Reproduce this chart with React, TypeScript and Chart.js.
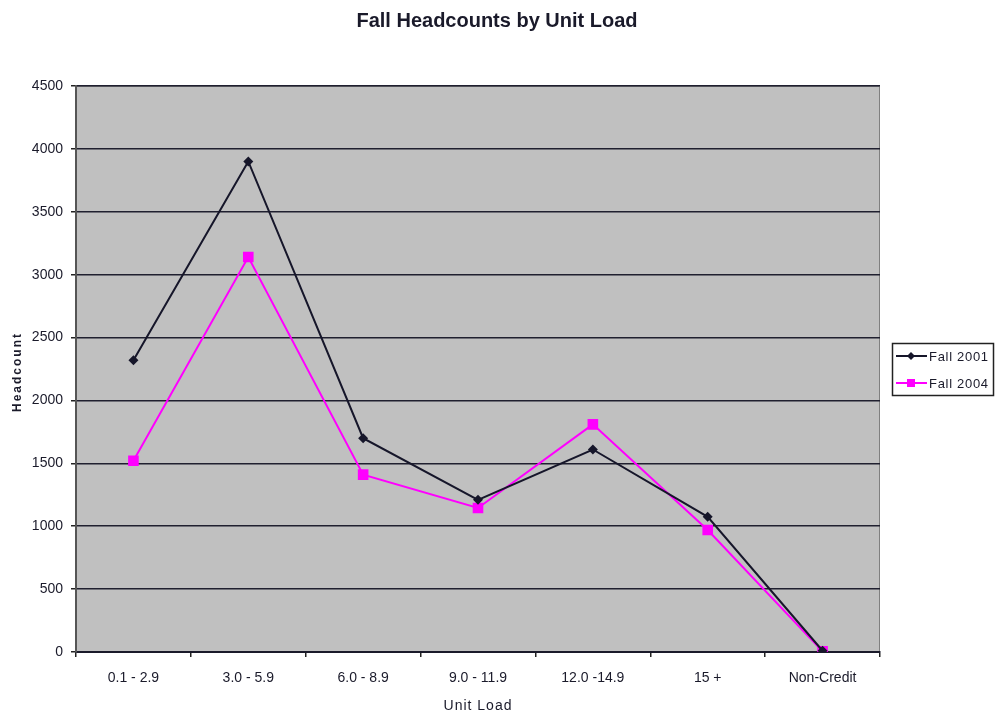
import React, { useEffect, useRef } from "react";
import { Chart, registerables } from "chart.js";

Chart.register(...registerables);

const categories = ["0.1 - 2.9", "3.0 - 5.9", "6.0 - 8.9", "9.0 - 11.9", "12.0 -14.9", "15 +", "Non-Credit"];
const fall2001 = [2320, 3900, 1700, 1210, 1610, 1075, 10];
const fall2004 = [1520, 3140, 1410, 1145, 1810, 970, 5];
const seriesNames = ["Fall 2001", "Fall 2004"];
const titleText = "Fall Headcounts by Unit Load";
const yTitle = "Headcount";
const xTitle = "Unit Load";

const C2001 = "#16162a";
const C2004 = "#ff00ff";
const FONT = "'Liberation Sans', Arial, sans-serif";

const decor = {
  id: "decor",
  beforeDraw(chart: any) {
    const { ctx, chartArea } = chart;
    ctx.save();
    ctx.fillStyle = "#ffffff";
    ctx.fillRect(0, 0, chart.width, chart.height);
    ctx.fillStyle = "#c0c0c0";
    ctx.fillRect(chartArea.left, chartArea.top, chartArea.right - chartArea.left, chartArea.bottom - chartArea.top);
    ctx.strokeStyle = "#808080";
    ctx.lineWidth = 1;
    ctx.strokeRect(chartArea.left + 0.5, chartArea.top + 0.5, chartArea.right - chartArea.left - 1, chartArea.bottom - chartArea.top - 1);
    ctx.restore();
  },
  afterDraw(chart: any) {
    const { ctx, chartArea } = chart;
    ctx.save();
    // title
    ctx.fillStyle = "#1a1a2a";
    ctx.font = `bold 20px ${FONT}`;
    ctx.textAlign = "center";
    ctx.textBaseline = "middle";
    ctx.fillText(titleText, 497, 21);
    // y axis title
    ctx.save();
    ctx.translate(18, (chartArea.top + chartArea.bottom) / 2 + 3);
    ctx.rotate(-Math.PI / 2);
    ctx.font = `bold 12px ${FONT}`;
    (ctx as any).letterSpacing = "2px";
    ctx.fillText(yTitle, 0, 0);
    ctx.restore();
    // x axis title
    ctx.font = `14px ${FONT}`;
    (ctx as any).letterSpacing = "1px";
    ctx.fillText(xTitle, (chartArea.left + chartArea.right) / 2, 706);
    (ctx as any).letterSpacing = "0px";
    // legend
    const bx = 892, by = 343, bw = 101, bh = 52;
    ctx.fillStyle = "#ffffff";
    ctx.fillRect(bx, by, bw, bh);
    ctx.strokeStyle = "#222";
    ctx.lineWidth = 1.5;
    ctx.strokeRect(bx + 0.5, by + 0.5, bw, bh);
    const rows = [
      { y: 356, color: C2001, name: seriesNames[0], shape: "diamond" },
      { y: 383, color: C2004, name: seriesNames[1], shape: "square" },
    ];
    rows.forEach((r) => {
      ctx.strokeStyle = r.color;
      ctx.lineWidth = 2;
      ctx.beginPath();
      ctx.moveTo(896, r.y);
      ctx.lineTo(927, r.y);
      ctx.stroke();
      ctx.fillStyle = r.color;
      ctx.beginPath();
      if (r.shape === "diamond") {
        ctx.moveTo(911, r.y - 4);
        ctx.lineTo(915, r.y);
        ctx.lineTo(911, r.y + 4);
        ctx.lineTo(907, r.y);
        ctx.closePath();
      } else {
        ctx.rect(907, r.y - 4, 8, 8);
      }
      ctx.fill();
      ctx.fillStyle = "#1a1a2a";
      ctx.font = `13px ${FONT}`;
      (ctx as any).letterSpacing = "0.7px";
      ctx.textAlign = "left";
      ctx.fillText(r.name, 929, r.y + 1);
      (ctx as any).letterSpacing = "0px";
    });
    ctx.restore();
  },
};

export default function App() {
  const ref = useRef<HTMLCanvasElement>(null);
  useEffect(() => {
    if (!ref.current) return;
    const chart = new Chart(ref.current, {
      type: "line",
      data: {
        labels: categories,
        datasets: [
          {
            label: seriesNames[0],
            data: fall2001,
            borderColor: C2001,
            backgroundColor: C2001,
            borderWidth: 2,
            pointStyle: "rectRot",
            pointRadius: 5,
            pointBorderWidth: 0,
            tension: 0,
          },
          {
            label: seriesNames[1],
            data: fall2004,
            borderColor: C2004,
            backgroundColor: C2004,
            borderWidth: 2,
            pointStyle: "rect",
            pointRadius: 7.5,
            pointBorderWidth: 0,
            tension: 0,
          },
        ],
      },
      options: {
        responsive: false,
        animation: false,
        layout: { padding: { top: 86, right: 115, left: 0, bottom: 0 } },
        plugins: { legend: { display: false }, title: { display: false }, tooltip: { enabled: false } },
        scales: {
          x: {
            offset: true,
            afterFit: (s: any) => { s.height = 65; },
            grid: { display: true, drawOnChartArea: false, offset: true, color: "#222", tickLength: 5, lineWidth: 1.5 },
            border: { display: true, color: "#1a1a2a", width: 2 },
            ticks: { color: "#1a1a2a", font: { family: FONT, size: 14 }, padding: 13, maxRotation: 0 },
            title: { display: false, text: xTitle },
          },
          y: {
            min: 0,
            max: 4500,
            afterFit: (s: any) => { s.width = 76; },
            grid: { color: "#1f1f2f", lineWidth: 1.5, tickLength: 5, tickColor: "#222" },
            border: { display: true, color: "#555", width: 2 },
            ticks: {
              stepSize: 500,
              color: "#1a1a2a",
              font: { family: FONT, size: 14 },
              padding: 8,
              callback: (v: any) => String(v),
            },
            title: { display: false, text: yTitle },
          },
        },
      },
      plugins: [decor],
    });
    return () => chart.destroy();
  }, []);
  return (
    <div style={{ position: "absolute", left: 0, top: 0, width: 995, height: 717 }}>
      <canvas ref={ref} width={995} height={717} style={{ width: 995, height: 717, display: "block" }} />
    </div>
  );
}
